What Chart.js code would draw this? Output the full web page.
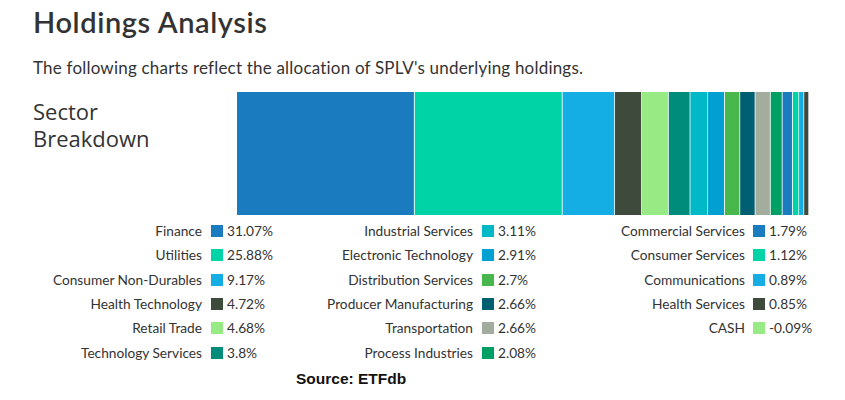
<!DOCTYPE html>
<html>
<head>
<meta charset="utf-8">
<script src="https://cdn.jsdelivr.net/npm/chart.js@4"></script>
<style>
body{margin:0;background:#fff;width:845px;height:400px;overflow:hidden;position:relative;font-family:Lato,"Open Sans",sans-serif;color:#333;}
#title{position:absolute;left:33px;top:4px;font-size:29px;font-weight:600;color:#333;letter-spacing:0.6px;}
#sub{position:absolute;left:33px;top:57px;font-size:17px;color:#333;letter-spacing:0.2px;}
#sector{position:absolute;left:33px;top:98px;font-family:"Open Sans",sans-serif;font-size:22px;line-height:27px;color:#333;}
#wrap{position:absolute;left:237px;top:92px;width:572px;height:123px;}
.row{position:absolute;height:20px;font-size:13.7px;line-height:20px;white-space:nowrap;}
.row .lab{position:absolute;right:0;text-align:right;}
.row .sq{position:absolute;width:12px;height:12px;top:4px;}
.row .val{position:absolute;}
#src{position:absolute;left:296px;top:370px;font-family:"Liberation Sans",sans-serif;font-weight:bold;font-size:15.5px;color:#111;}
</style>
</head>
<body>
<div id="title">Holdings Analysis</div>
<div id="sub">The following charts reflect the allocation of SPLV's underlying holdings.</div>
<div id="sector">Sector<br>Breakdown</div>
<div id="wrap"><canvas id="sectores"></canvas></div>
<div id="legenda"></div>
<div id="src">Source: ETFdb</div>
<script>
// dados
sectors=['Finance','Utilities','Consumer Non-Durables','Health Technology','Retail Trade','Technology Services',
 'Industrial Services','Electronic Technology','Distribution Services','Producer Manufacturing','Transportation','Process Industries',
 'Commercial Services','Consumer Services','Communications','Health Services','CASH'];
weights=[31.07,25.88,9.17,4.72,4.68,3.8,3.11,2.91,2.7,2.66,2.66,2.08,1.79,1.12,0.89,0.85,-0.09];
colors=['#1b7bbf','#00d4a6','#14aee5','#3e4a3c','#98ea84','#008c7a',
 '#00b9c6','#00a0d2','#48b84c','#005f70','#a3ad9e','#00a065',
 '#1b7bbf','#00d4a6','#14aee5','#3e4a3c','#98ea84'];

let total=0;
weights.forEach(w=>{ if(w>0) total+=w; });

{
let ctx=document.getElementById("sectores");
var chart=new Chart(ctx,{
  type:'bar',
  data:{
    labels:['Sector'],
    datasets:sectors.map((s,i)=>({
      label:s,
      data:[weights[i]],
      backgroundColor:colors[i],
      borderColor:'rgba(255,255,255,0.35)',
      borderWidth:{right:1},
      borderSkipped:false,
      barPercentage:1,
      categoryPercentage:1
    }))
  },
  options:{
    indexAxis:'y',
    responsive:true,
    maintainAspectRatio:false,
    animation:false,
    layout:{padding:0},
    scales:{
      x:{stacked:true,display:false,min:0,max:total},
      y:{stacked:true,display:false}
    },
    plugins:{legend:{display:false},tooltip:{enabled:false}}
  }
});
}

// legenda em 3 colunas
{
let leg=document.getElementById("legenda");
let cols=[{labRight:202,sq:211,val:227},{labRight:473,sq:482,val:498},{labRight:745,sq:753,val:769}];
let per=6;
sectors.forEach((s,i)=>{
  let c=cols[Math.floor(i/per)], r=i%per;
  let top=221+r*24.3;
  let row=document.createElement('div');
  row.className='row';
  row.style.left='0px';row.style.top=top+'px';row.style.width='845px';
  row.innerHTML='<span class="lab" style="right:'+(845-c.labRight)+'px">'+s+'</span>'+
    '<span class="sq" style="left:'+c.sq+'px;background:'+colors[i]+'"></span>'+
    '<span class="val" style="left:'+c.val+'px">'+weights[i]+'%</span>';
  leg.appendChild(row);
});
}
</script>
</body>
</html>
